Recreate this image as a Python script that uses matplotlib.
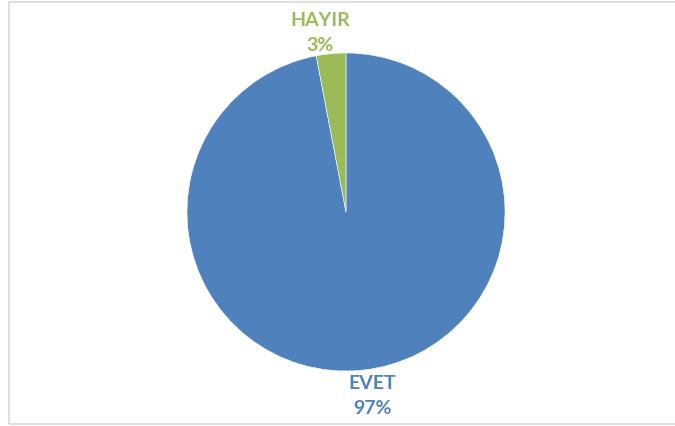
import matplotlib
matplotlib.use("Agg")
import matplotlib.pyplot as plt
from matplotlib.patches import Rectangle

# Survey answers
labels = ["EVET", "HAYIR"]
values = [97, 3]
colors = ["#4F81BD", "#9BBB59"]

W, H = 675, 426
fig = plt.figure(figsize=(W / 100, H / 100), dpi=100)

# Pie axes: centre (346, 212) px from top-left, radius 159 px
cx, cy, r = 346, H - 212, 159
ax = fig.add_axes([(cx - r) / W, (cy - r) / H, 2 * r / W, 2 * r / H])
ax.pie(
    values,
    colors=colors,
    startangle=90,
    counterclock=False,
    radius=1,
    wedgeprops={"edgecolor": "white", "linewidth": 0.4},
)
ax.set_xlim(-1, 1)
ax.set_ylim(-1, 1)
ax.set_aspect("auto")
ax.axis("off")

# Data labels (category + percent), placed outside the pie
total = sum(values)
label_pos = {"EVET": (0.164, -1.158), "HAYIR": (-0.164, 1.126)}
for name, val, col in zip(labels, values, colors):
    x, y = label_pos[name]
    ax.text(
        x,
        y,
        f"{name}\n{round(100 * val / total)}%",
        ha="center",
        va="center",
        color=col,
        fontsize=14,
        fontweight="bold",
        family=["Lato", "DejaVu Sans"],
        linespacing=1.6,
        clip_on=False,
    )

# Light chart-area border
fig.add_artist(
    Rectangle(
        (8.5 / W, 2.5 / H),
        (W + 10) / W,
        (H - 4) / H,
        transform=fig.transFigure,
        fill=False,
        edgecolor="#d9d9d9",
        linewidth=1.2,
    )
)

fig.savefig("out.png", dpi=100)
